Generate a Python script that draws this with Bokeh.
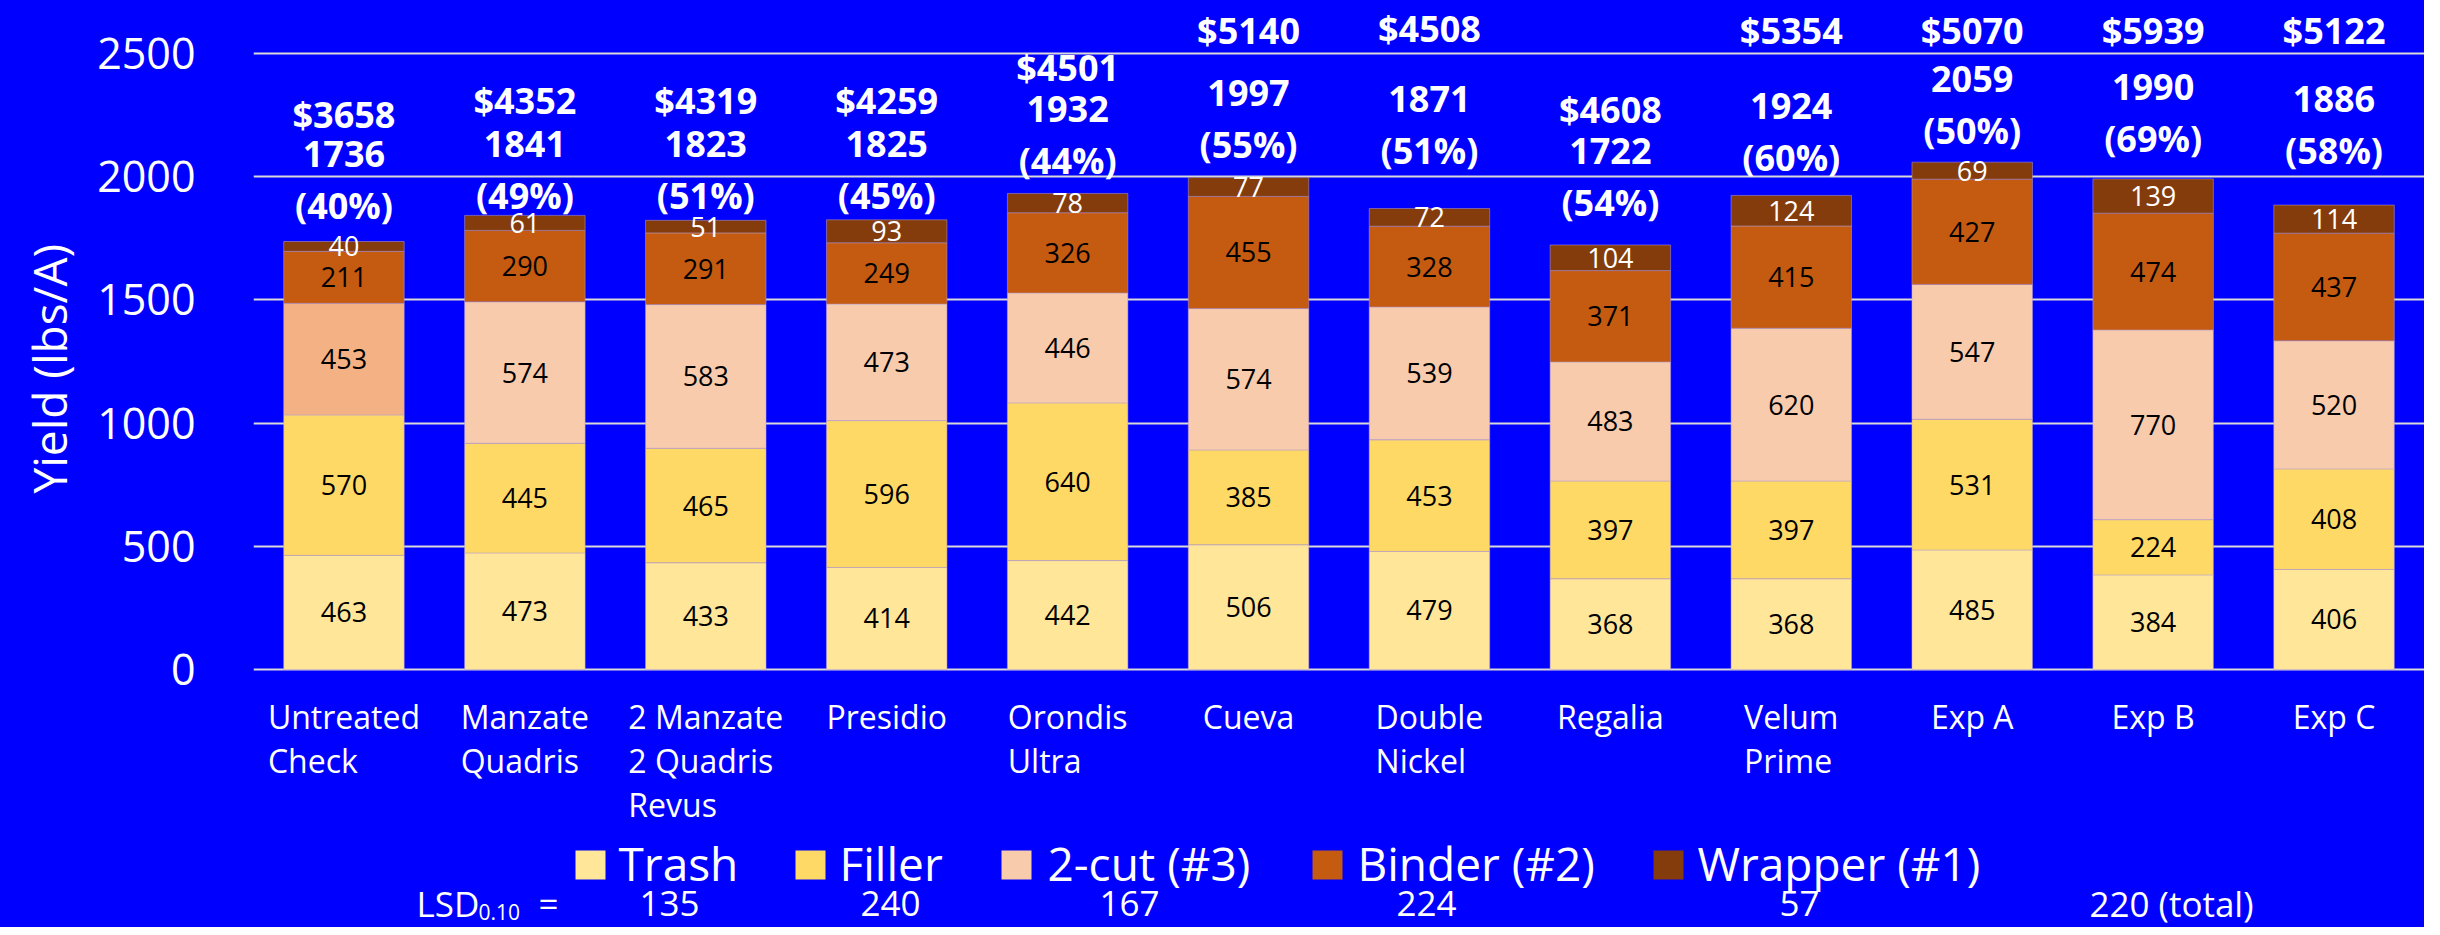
import numpy as np
from bokeh.plotting import figure
from bokeh.models import (ColumnDataSource, FactorRange, FixedTicker, LabelSet, Label,
                          BoxAnnotation, Range1d, Title)
from bokeh.core.properties import value
from bokeh.embed import file_html
from bokeh.resources import INLINE

# ---------------- data ----------------
categories = ["Untreated\nCheck", "Manzate\nQuadris", "2 Manzate\n2 Quadris\nRevus", "Presidio",
              "Orondis\nUltra", "Cueva", "Double\nNickel", "Regalia", "Velum\nPrime",
              "Exp A", "Exp B", "Exp C"]
trash   = [463, 473, 433, 414, 442, 506, 479, 368, 368, 485, 384, 406]
filler  = [570, 445, 465, 596, 640, 385, 453, 397, 397, 531, 224, 408]
two_cut = [453, 574, 583, 473, 446, 574, 539, 483, 620, 547, 770, 520]
binder  = [211, 290, 291, 249, 326, 455, 328, 371, 415, 427, 474, 437]
wrapper = [40, 61, 51, 93, 78, 77, 72, 104, 124, 69, 139, 114]
totals   = [1736, 1841, 1823, 1825, 1932, 1997, 1871, 1722, 1924, 2059, 1990, 1886]
percents = [40, 49, 51, 45, 44, 55, 51, 54, 60, 50, 69, 58]
dollars  = [3658, 4352, 4319, 4259, 4501, 5140, 4508, 4608, 5354, 5070, 5939, 5122]
series_names = ["Trash", "Filler", "2-cut (#3)", "Binder (#2)", "Wrapper (#1)"]
lsd_label = "LSD"
lsd_sub = "0.10"
lsd_values = ["135", "240", "167", "224", "57", "220 (total)"]
y_ticks = [0, 500, 1000, 1500, 2000, 2500]

# ---------------- layout ----------------
# geometry of the plotting frame, in picture pixels (canvas starts at x=8, y=0)
CANVAS_X = 8
FRAME_LEFT, FRAME_TOP, FRAME_BOTTOM = 252, 0, 927
Y0_PX, PX_PER_UNIT = 669, 0.2464            # picture y of value 0, pixels per lbs/A

def ydata(py):
    return (Y0_PX - py) / PX_PER_UNIT

def sx(px):
    return px - FRAME_LEFT

def sy(py):
    return FRAME_BOTTOM - py

# hand-placed label positions (axis units), as in the original slide
dollar_label_y = [2252, 2308, 2308, 2308, 2442, 2595, 2600, 2272, 2595, 2595, 2595, 2595]
total_label_y = [2093, 2134, 2134, 2134, 2276, 2341, 2316, 2105, 2288, 2398, 2365, 2316]
pct_offset = 211
xlabel_top_px = 694
ytitle_start_px = 493
legend_square_x = [574, 794, 1000, 1311, 1652]
legend_text_x = [617, 838, 1046, 1356, 1696]
legend_top_px, legend_bottom_px, legend_mid_px = 850, 879, 862.5
lsd_x = [668, 889, 1128, 1425, 1798, 2170]
lsd_mid_px, lsd_sub_mid_px = 903, 911

# ---------------- styles ----------------
FONT = "Open Sans"
BG = "#0000FF"
base_colors = ["#FFE699", "#FFD966", "#F8CBAD", "#C55A11", "#843C0C"]
layer_colors = ["#FFE699", "#FFD966", "cut_color", "#C55A11", "#843C0C"]
cut_colors = ["#F4B183"] + ["#F8CBAD"] * (len(categories) - 1)
label_colors = ["black", "black", "black", "black", "white"]

src = ColumnDataSource(dict(cat=categories, trash=trash, filler=filler, cut=two_cut,
                            binder=binder, wrapper=wrapper, cut_color=cut_colors))

p = figure(x_range=FactorRange(*categories),
           y_range=Range1d(ydata(FRAME_BOTTOM), ydata(FRAME_TOP)),
           width=2424, height=927, output_backend="svg", toolbar_location=None,
           x_axis_location=None,
           min_border_left=FRAME_LEFT - CANVAS_X, min_border_right=0,
           min_border_top=0, min_border_bottom=0,
           background_fill_color=None, border_fill_color=None, outline_line_color=None,
           styles={"background-color": BG})

stackers = ["trash", "filler", "cut", "binder", "wrapper"]
renderers = p.vbar_stack(stackers, x="cat", width=0.666, source=src,
                         fill_color=layer_colors, line_color="#B8A0D0", line_width=1, line_alpha=0.5)

# segment value labels
layers = np.array([trash, filler, two_cut, binder, wrapper], dtype=float)
tops = np.cumsum(layers, axis=0)
mids = tops - layers / 2
seg = dict(cat=[], y=[], text=[], color=[])
for i in range(layers.shape[0]):
    for j, c in enumerate(categories):
        seg["cat"].append(c)
        seg["y"].append(mids[i, j])
        seg["text"].append(str(int(layers[i, j])))
        seg["color"].append(label_colors[i])
p.add_layout(LabelSet(x="cat", y="y", text="text", source=ColumnDataSource(seg),
                      text_align="center", text_baseline="middle", text_color="color",
                      text_font=value(FONT), text_font_size="27px"))

# top labels
top = ColumnDataSource(dict(cat=categories,
                            dy=dollar_label_y, dtext=["$%d" % d for d in dollars],
                            ty=total_label_y, ttext=[str(t) for t in totals],
                            py=[v - pct_offset for v in total_label_y],
                            ptext=["(%d%%)" % v for v in percents]))
for yk, tk in (("dy", "dtext"), ("ty", "ttext"), ("py", "ptext")):
    p.add_layout(LabelSet(x="cat", y=yk, text=tk, source=top, text_align="center",
                          text_baseline="middle", text_color="white", text_font=value(FONT),
                          text_font_size="36px", text_font_style="bold"))

# category labels under the bars
xl = ColumnDataSource(dict(cat=categories, y=[ydata(xlabel_top_px)] * len(categories)))
p.add_layout(LabelSet(x="cat", y="y", text="cat", source=xl, text_align="center",
                      text_baseline="top", text_color="white", text_font=value(FONT),
                      text_font_size="32px", text_line_height=1.03))

# y axis
p.yaxis.ticker = FixedTicker(ticks=y_ticks)
p.yaxis.major_label_text_font = FONT
p.yaxis.major_label_text_font_size = "43px"
p.yaxis.major_label_text_color = "white"
p.yaxis.major_label_standoff = 52
p.yaxis.axis_line_color = None
p.yaxis.major_tick_line_color = None
p.yaxis.minor_tick_line_color = None
p.add_layout(Title(text="Yield (lbs/A)", align="left", offset=FRAME_BOTTOM - ytitle_start_px,
                   text_font=FONT, text_font_size="46px", text_font_style="normal",
                   text_color="white", standoff=30), "left")

p.ygrid.grid_line_color = "#D9D9D9"
p.ygrid.grid_line_width = 2
p.xgrid.grid_line_color = None

# legend row
for xs, name, col, xt in zip(legend_square_x, series_names, base_colors, legend_text_x):
    p.add_layout(BoxAnnotation(left=sx(xs), right=sx(xs + 30), top=sy(legend_top_px),
                               bottom=sy(legend_bottom_px), left_units="screen",
                               right_units="screen", top_units="screen", bottom_units="screen",
                               fill_color=col, fill_alpha=1, line_color=None))
    p.add_layout(Label(x=sx(xt), y=sy(legend_mid_px), x_units="screen", y_units="screen",
                       text=name, text_align="left", text_baseline="middle",
                       text_color="white", text_font=FONT, text_font_size="46px"))

# LSD row
p.add_layout(Label(x=sx(415), y=sy(lsd_mid_px), x_units="screen", y_units="screen",
                   text=lsd_label, text_align="left", text_baseline="middle",
                   text_color="white", text_font=FONT, text_font_size="35px"))
p.add_layout(Label(x=sx(477), y=sy(lsd_sub_mid_px), x_units="screen", y_units="screen",
                   text=lsd_sub, text_align="left", text_baseline="middle",
                   text_color="white", text_font=FONT, text_font_size="21px"))
p.add_layout(Label(x=sx(537), y=sy(lsd_mid_px), x_units="screen", y_units="screen",
                   text="=", text_align="left", text_baseline="middle",
                   text_color="white", text_font=FONT, text_font_size="35px"))
for xv, t in zip(lsd_x, lsd_values):
    p.add_layout(Label(x=sx(xv), y=sy(lsd_mid_px), x_units="screen", y_units="screen",
                       text=t, text_align="center", text_baseline="middle",
                       text_color="white", text_font=FONT, text_font_size="35px"))

open("out.html", "w").write(file_html(p, INLINE))
